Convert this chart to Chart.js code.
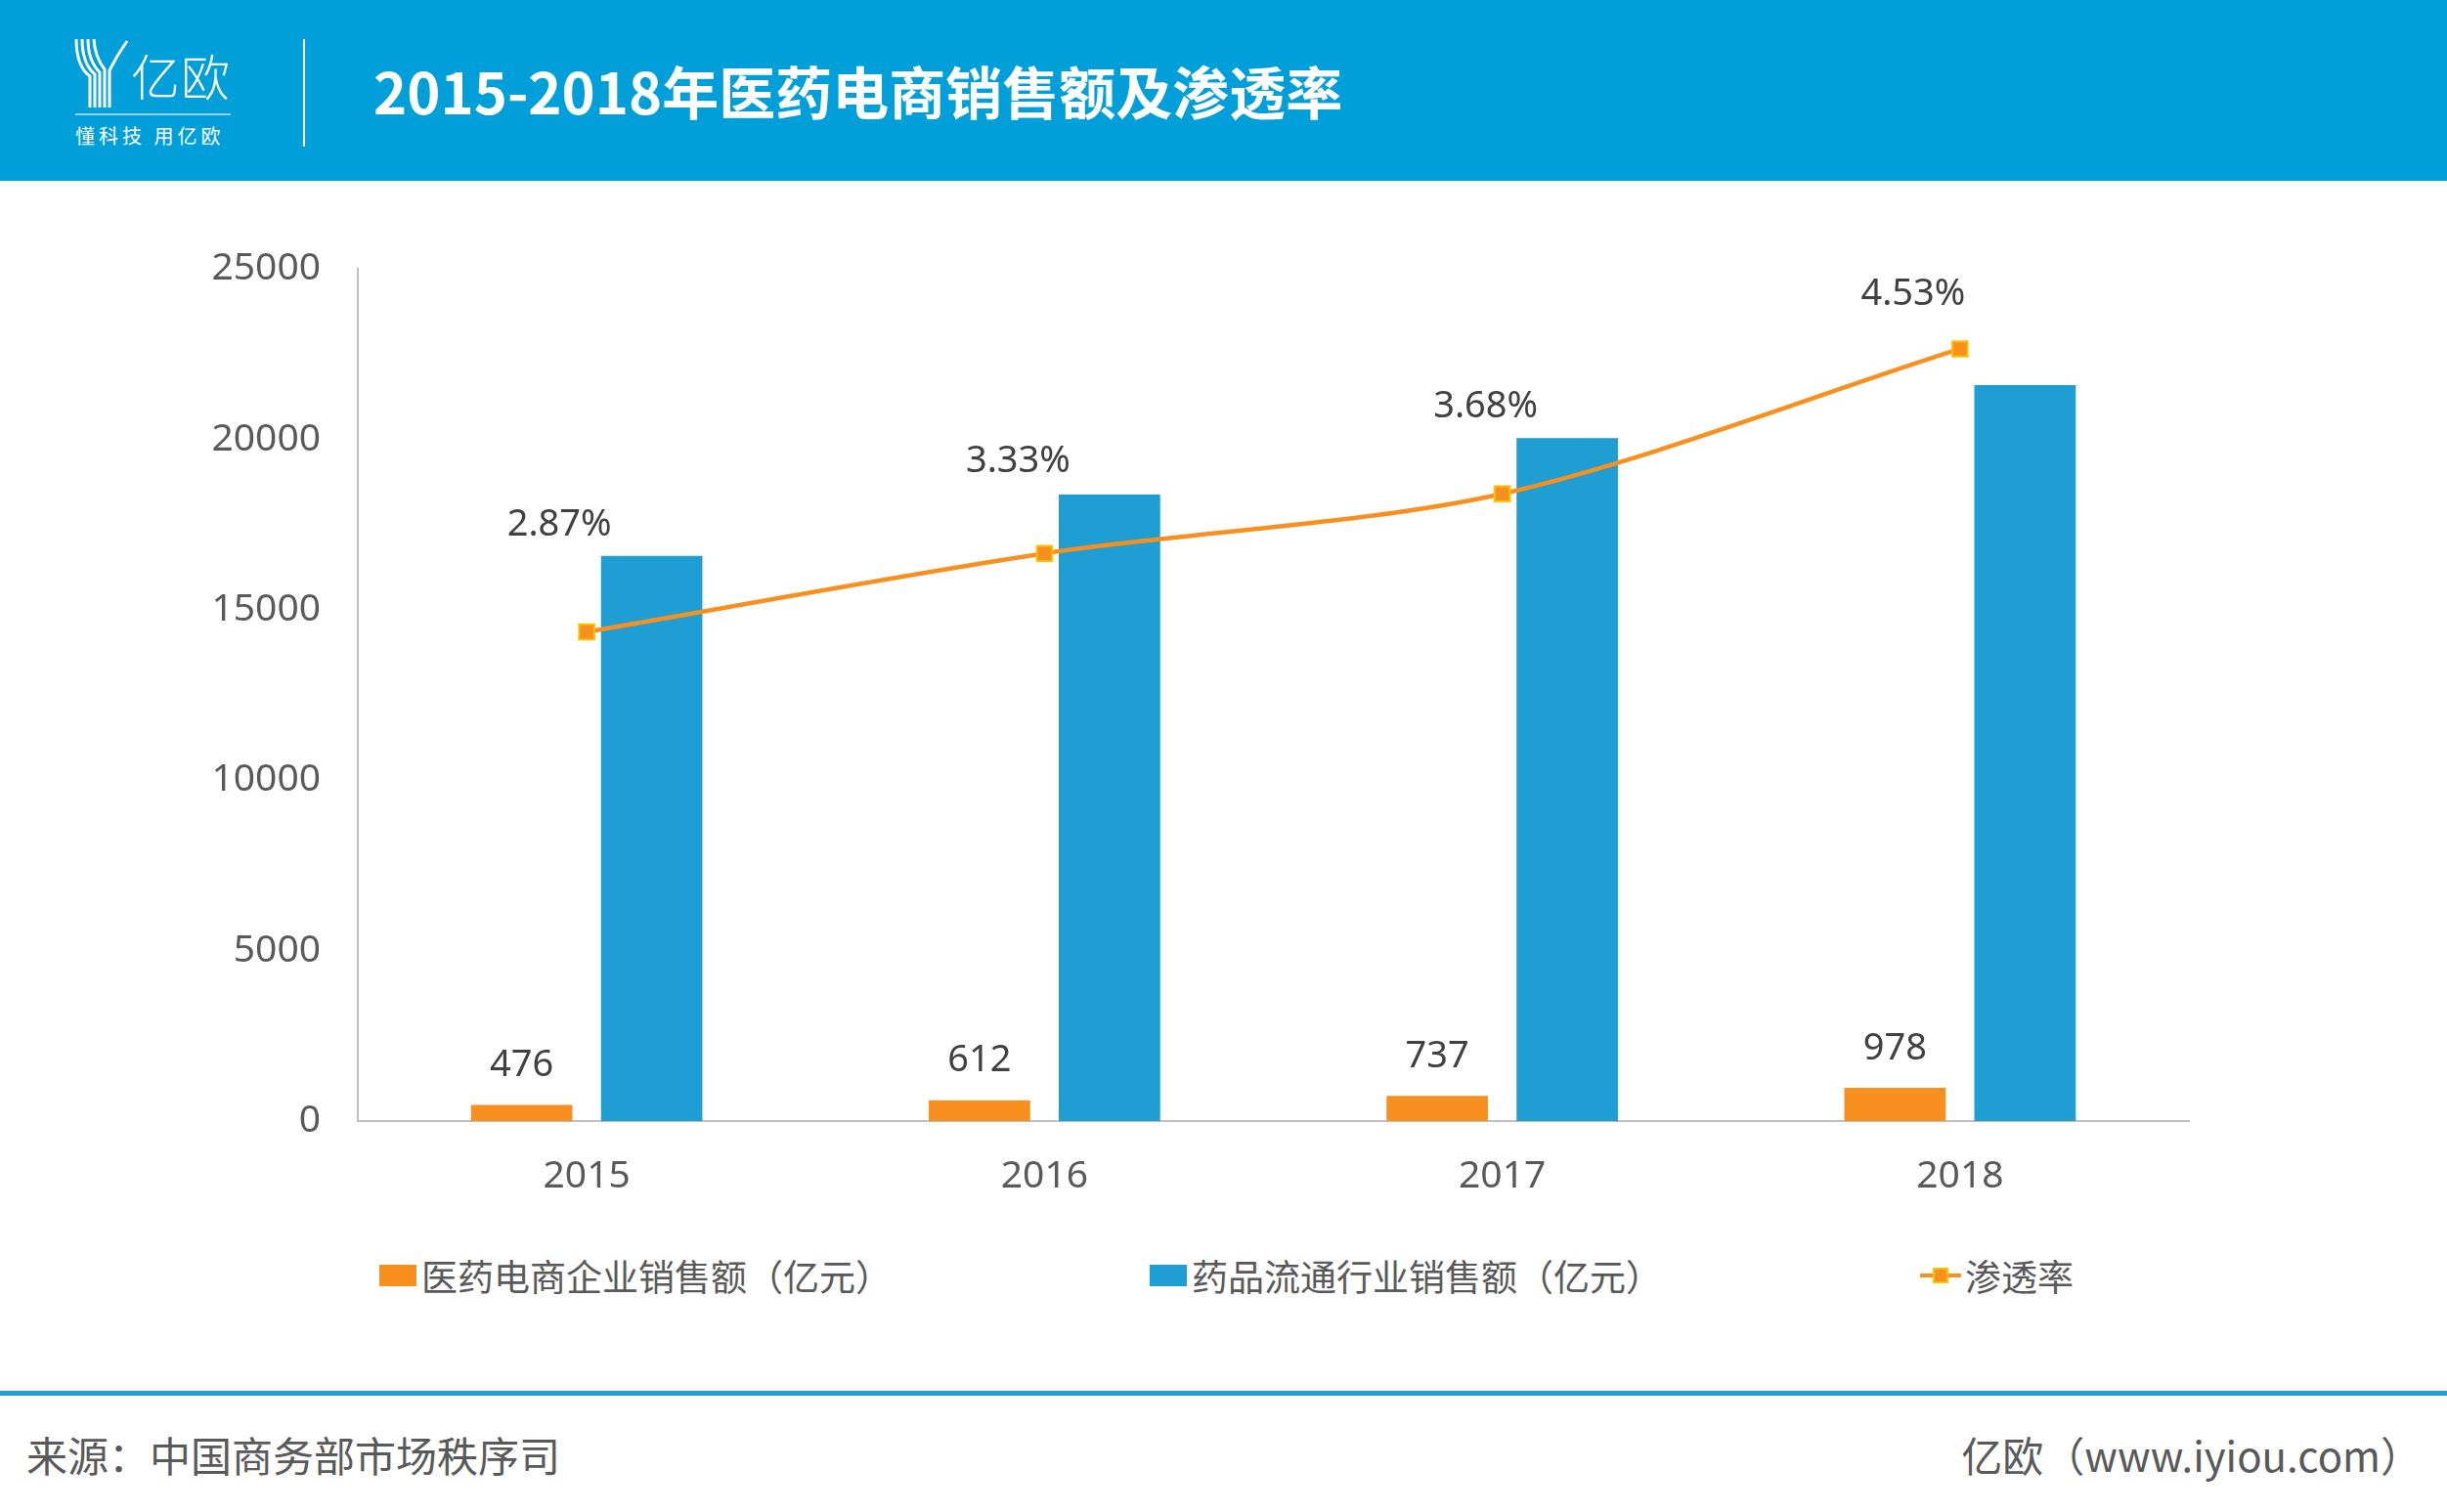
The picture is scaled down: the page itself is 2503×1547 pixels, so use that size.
<!DOCTYPE html>
<html>
<head>
<meta charset="utf-8">
<script src="https://cdn.jsdelivr.net/npm/chart.js@4.4.1/dist/chart.umd.min.js"></script>
<style>
  body { margin: 0; width: 2503px; height: 1547px; background: #fff; position: relative; overflow: hidden;
         font-family: "Noto Sans", "Noto Sans CJK SC", sans-serif; }
  #header { position: absolute; left: 0; top: 0; width: 2503px; height: 185px; background: #009FD9; }
  #logoMark { position: absolute; left: 76px; top: 38px; }
  #logoText { position: absolute; left: 134px; top: 44px; color: #fff; font-size: 50px; line-height: 64px;
              font-family: "Noto Sans CJK SC", sans-serif; font-weight: 300; letter-spacing: 1px; }
  #logoLine { position: absolute; left: 77px; top: 116px; width: 159px; height: 2px; background: rgba(255,255,255,0.55); }
  #slogan { position: absolute; left: 77px; top: 126px; color: #fff; font-size: 20px; line-height: 26px;
            font-family: "Noto Sans CJK SC", sans-serif; letter-spacing: 4px; white-space: nowrap; }
  #divider { position: absolute; left: 310px; top: 40px; width: 2px; height: 110px; background: #fff; }
  #title { position: absolute; left: 382px; top: 56px; color: #fff; font-size: 58px; line-height: 72px; font-weight: bold;
           font-family: "Noto Sans CJK SC", sans-serif; white-space: nowrap; }
  #chartBox { position: absolute; left: 0; top: 185px; width: 2503px; height: 1075px; }
  #legend { position: absolute; left: 388px; top: 1278px; display: flex; align-items: center; gap: 264px;
            font-family: "Noto Sans CJK SC", sans-serif; font-size: 37px; color: #595959; white-space: nowrap; }
  .item { display: flex; align-items: center; }
  .box { width: 38px; height: 22px; margin-right: 5px; }
  .lineKey { position: relative; width: 42px; height: 22px; margin-right: 4px; }
  .lineKey .ln { position: absolute; left: 0; top: 9px; width: 42px; height: 4px; background: #F7901E; }
  .lineKey .mk { position: absolute; left: 13px; top: 3px; width: 12px; height: 12px; background: #F7901E; border: 2px solid #FFC000; }
  #footLine { position: absolute; left: 0; top: 1423px; width: 2503px; height: 5px; background: #1E9ED3; }
  .foot { position: absolute; top: 1461px; font-family: "Noto Sans CJK SC", sans-serif; font-size: 42px; line-height: 54px; color: #595959; white-space: nowrap; }
</style>
</head>
<body>
<div id="header">
  <svg id="logoMark" width="60" height="74" viewBox="0 0 60 74">
    <g stroke="#fff" stroke-width="3" fill="none">
      <path d="M2 2 Q2 30 16 40 L16 72"/>
      <path d="M8 2 Q8 27 21 38 L21 72"/>
      <path d="M14 2 Q14 24 26 36 L26 72"/>
      <path d="M20 2 Q21 20 31 33 L31 72"/>
      <path d="M54 4 Q44 18 36 34 L36 72"/>
    </g>
  </svg>
  <div id="logoText">亿欧</div>
  <div id="logoLine"></div>
  <div id="slogan">懂科技 用亿欧</div>
  <div id="divider"></div>
  <div id="title">2015-2018年医药电商销售额及渗透率</div>
</div>

<div id="chartBox"><canvas id="graficoVendas"></canvas></div>
<div id="legend"></div>
<div id="footLine"></div>
<div class="foot" style="left:27px;">来源：中国商务部市场秩序司</div>
<div class="foot" style="right:26px;">亿欧（www.iyiou.com）</div>

<script>
const anos = ['2015', '2016', '2017', '2018'];
const vendasEcommerce = [476, 612, 737, 978];
const vendasSetor = [16580, 18380, 20030, 21590];
const taxaPenetracao = [2.87, 3.33, 3.68, 4.53];
const ticksY = [0, 5000, 10000, 15000, 20000, 25000];

const nomeEcommerce = '医药电商企业销售额（亿元）';
const nomeSetor = '药品流通行业销售额（亿元）';
const nomeTaxa = '渗透率';

const corLaranja = '#F7901E';
const corAzul = '#1E9ED3';

// deslocamento dos rótulos de % em relação ao ponto (como no original)
const offsetsTaxa = [[-28, -109], [-27, -94], [-17, -89], [-48, -56]];

const rotulos = {
  id: 'rotulos',
  afterDatasetsDraw(chart) {
    const ctx = chart.ctx;
    ctx.save();
    ctx.font = '38px "Noto Sans", "Noto Sans CJK SC", sans-serif';
    ctx.fillStyle = '#404040';
    ctx.textAlign = 'center';
    ctx.textBaseline = 'middle';
    chart.getDatasetMeta(0).data.forEach((bar, i) => {
      ctx.fillText(String(vendasEcommerce[i]), bar.x, bar.y - 40);
    });
    chart.getDatasetMeta(2).data.forEach((pt, i) => {
      const o = offsetsTaxa[i];
      ctx.fillText(taxaPenetracao[i].toFixed(2) + '%', pt.x + o[0], pt.y + o[1]);
    });
    ctx.restore();
  }
};

const graficoVendas = document.getElementById('graficoVendas');

new Chart(graficoVendas, {
  type: 'bar',
  data: {
    labels: anos,
    datasets: [{
      label: nomeEcommerce,
      data: vendasEcommerce,
      backgroundColor: corLaranja,
      categoryPercentage: 0.568,
      barPercentage: 0.78,
      order: 1
    }, {
      label: nomeSetor,
      data: vendasSetor,
      backgroundColor: corAzul,
      categoryPercentage: 0.568,
      barPercentage: 0.78,
      order: 2
    }, {
      type: 'line',
      label: nomeTaxa,
      data: taxaPenetracao,
      yAxisID: 'y1',
      borderColor: corLaranja,
      borderWidth: 4.5,
      tension: 0.3,
      pointStyle: 'rect',
      pointRadius: 11,
      pointBackgroundColor: corLaranja,
      pointBorderColor: '#FFC000',
      pointBorderWidth: 2,
      order: 0
    }]
  },
  options: {
    responsive: true,
    maintainAspectRatio: false,
    animation: false,
    devicePixelRatio: 1,
    layout: { padding: { top: 90, right: 264, left: 0, bottom: 0 } },
    plugins: { legend: { display: false }, tooltip: { enabled: false } },
    scales: {
      x: {
        grid: { display: false },
        border: { display: true, color: '#BFBFBF', width: 2 },
        ticks: { color: '#595959', font: { size: 39, family: '"Noto Sans"' }, padding: 25 },
        afterFit: (scale) => { scale.height = 113; }
      },
      y: {
        min: 0,
        max: 25000,
        afterBuildTicks: (scale) => { scale.ticks = ticksY.map(v => ({ value: v })); },
        grid: { display: false },
        border: { display: true, color: '#BFBFBF', width: 2 },
        ticks: { color: '#595959', font: { size: 39, family: '"Noto Sans"' }, padding: 30,
                 callback: (v) => String(v) },
        afterFit: (scale) => { scale.width = 366; }
      },
      y1: {
        display: false,
        min: 0,
        max: 5
      }
    }
  },
  plugins: [rotulos]
});

// legenda em HTML
const legenda = document.getElementById('legend');
[[nomeEcommerce, corLaranja, 'box'], [nomeSetor, corAzul, 'box'], [nomeTaxa, corLaranja, 'line']].forEach(([txt, cor, tipo]) => {
  const item = document.createElement('div');
  item.className = 'item';
  if (tipo === 'box') {
    item.innerHTML = '<div class="box" style="background:' + cor + '"></div><span>' + txt + '</span>';
  } else {
    item.innerHTML = '<div class="lineKey"><div class="ln"></div><div class="mk"></div></div><span>' + txt + '</span>';
  }
  legenda.appendChild(item);
});
</script>
</body>
</html>
